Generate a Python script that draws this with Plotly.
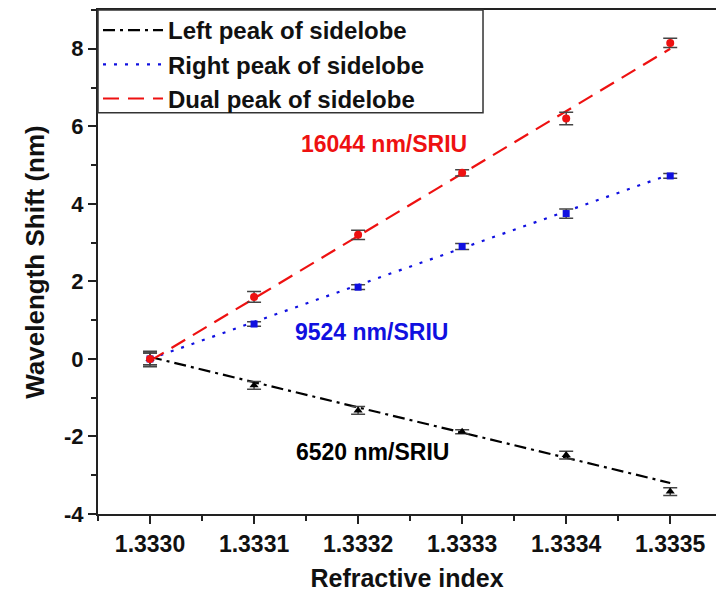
import plotly.graph_objects as go

ri = [1.3330, 1.3331, 1.3332, 1.3333, 1.3334, 1.3335]
left_shift = [0.0, -0.68, -1.33, -1.88, -2.48, -3.42]
right_shift = [0.0, 0.90, 1.85, 2.90, 3.75, 4.72]
dual_shift = [0.0, 1.60, 3.20, 4.80, 6.20, 8.15]
left_err = [0.15, 0.10, 0.10, 0.05, 0.10, 0.10]
right_err = [0.15, 0.06, 0.06, 0.08, 0.12, 0.06]
dual_err = [0.20, 0.14, 0.12, 0.08, 0.16, 0.12]

fit_x = [1.3330, 1.3335]
left_fit = [0.05, -3.20]
right_fit = [0.0, 4.76]
dual_fit = [-0.05, 8.0]

names = ["Left peak of sidelobe", "Right peak of sidelobe", "Dual peak of sidelobe"]
sens_labels = ["6520 nm/SRIU", "9524 nm/SRIU", "16044 nm/SRIU"]
sens_pos = [(1.333214, -2.40), (1.333213, 0.70), (1.333225, 5.54)]

x_ticktext = ["1.3330", "1.3331", "1.3332", "1.3333", "1.3334", "1.3335"]
y_tickvals = [-4, -2, 0, 2, 4, 6, 8]
y_ticktext = ["-4", "-2", "0", "2", "4", "6", "8"]

colors = ["#000000", "#1010e0", "#ee1111"]
dashes = ["12px,5px,3px,5px", "3px,8px", "16px,9px"]
symbols = ["triangle-up", "square", "circle"]
msizes = [8, 7, 8]

FONT = "Arial, Liberation Sans"

fig = go.Figure()
for fy, nm, c, d in zip([left_fit, right_fit, dual_fit], names, colors, dashes):
    fig.add_trace(go.Scatter(x=fit_x, y=fy, mode="lines", name=nm,
                             legendgroup=nm,
                             line=dict(color=c, dash=d, width=2.2)))
for ys, es, c, s, ms in zip([left_shift, right_shift, dual_shift],
                            [left_err, right_err, dual_err], colors, symbols, msizes):
    fig.add_trace(go.Scatter(x=ri, y=ys, mode="markers", showlegend=False,
                             marker=dict(color=c, symbol=s, size=ms),
                             error_y=dict(type="data", array=es, visible=True,
                                          color="#444444", thickness=1.5, width=7)))

for txt, (ax, ay), c in zip(sens_labels, sens_pos, colors):
    fig.add_annotation(x=ax, y=ay, text=txt, showarrow=False, xanchor="center",
                       font=dict(family=FONT, size=23, color=c, weight="bold"))

# legend frame
fig.add_shape(type="rect", xref="paper", yref="paper", x0=0, x1=0.623, y0=0.796, y1=1,
              line=dict(color="#333333", width=1.5), fillcolor="white", layer="above")

fig.update_layout(
    width=716, height=605,
    margin=dict(l=98, r=0, t=10, b=91),
    plot_bgcolor="white", paper_bgcolor="white",
    showlegend=True,
    legend=dict(x=0, y=1.004, xanchor="left", yanchor="top",
                bgcolor="rgba(0,0,0,0)", borderwidth=0,
                tracegroupgap=0, itemwidth=60,
                font=dict(family=FONT, size=24, color="#111111", weight="bold")),
    xaxis=dict(range=[1.33295, 1.333544], tickvals=ri, ticktext=x_ticktext,
               showline=True, linecolor="#222222", linewidth=2, mirror=True,
               ticks="outside", ticklen=8, tickwidth=1.5, tickcolor="#222222",
               minor=dict(dtick=0.00005, tick0=1.33295, ticks="outside", ticklen=5, tickcolor="#222222"),
               showgrid=False, zeroline=False,
               tickfont=dict(family=FONT, size=23, color="#111111", weight="bold"),
               title=dict(text="Refractive index", standoff=14,
                          font=dict(family=FONT, size=25, color="#111111", weight="bold"))),
    yaxis=dict(range=[-4, 9], tickvals=y_tickvals, ticktext=y_ticktext,
               showline=True, linecolor="#222222", linewidth=2, mirror=False,
               ticks="outside", ticklen=8, tickwidth=1.5, tickcolor="#222222",
               minor=dict(dtick=1, ticks="outside", ticklen=5, tickcolor="#222222"),
               showgrid=False, zeroline=False,
               tickfont=dict(family=FONT, size=22, color="#111111", weight="bold"),
               title=dict(text="Wavelength Shift (nm)", standoff=12,
                          font=dict(family=FONT, size=26, color="#111111", weight="bold"))),
)
fig.write_html("out.html")
